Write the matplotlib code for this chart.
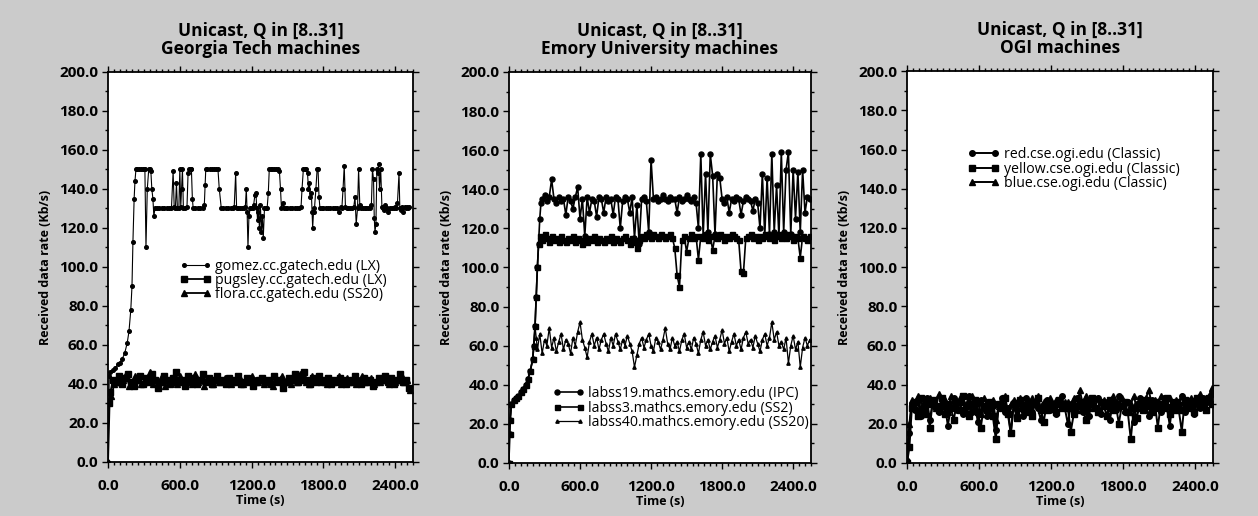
import numpy as np
import matplotlib
matplotlib.use("Agg")
import matplotlib.pyplot as plt
from matplotlib.ticker import MultipleLocator, FormatStrFormatter

plt.rcParams['font.family'] = ['Open Sans', 'DejaVu Sans']

# ---------------- data ----------------
TITLES = ["Unicast, Q in [8..31]\nGeorgia Tech machines",
          "Unicast, Q in [8..31]\nEmory University machines",
          "Unicast, Q in [8..31]\nOGI machines"]
XLABEL = "Time (s)"
YLABEL = "Received data rate (Kb/s)"
XTICKS = [0, 600, 1200, 1800, 2400]
YTICKS = [0, 20, 40, 60, 80, 100, 120, 140, 160, 180, 200]

# Panel 1 : Georgia Tech
GT_LABELS = ["gomez.cc.gatech.edu (LX)", "pugsley.cc.gatech.edu (LX)", "flora.cc.gatech.edu (SS20)"]
gomez_t = [0, 10, 20, 40, 60, 80, 100, 120, 140, 160, 175, 190, 200, 208, 218, 225, 233,
           245, 260, 275, 290, 300, 308, 317, 328, 340, 350, 358, 366, 375, 383, 392,
           410, 430, 450, 470, 490, 510, 530, 544, 553, 563, 572, 580, 592, 600, 608, 615,
           622, 630, 645, 660, 669, 680, 690, 697, 705, 712, 730, 750, 770, 790, 805, 812,
           817, 830, 850, 870, 890, 905, 919, 930, 947, 965, 985, 1005, 1025, 1044, 1055,
           1067, 1075, 1090, 1105, 1120, 1135, 1148, 1156, 1163, 1170, 1178, 1188, 1198,
           1208, 1218, 1228, 1236, 1244, 1250, 1258, 1266, 1274, 1282, 1290, 1298, 1308,
           1318, 1330, 1340, 1348, 1360, 1375, 1390, 1405, 1420, 1433, 1442, 1450, 1460,
           1470, 1485, 1500, 1520, 1540, 1560, 1580, 1600, 1614, 1622, 1633, 1645, 1658,
           1668, 1676, 1684, 1692, 1700, 1706, 1711, 1718, 1726, 1738, 1748, 1756, 1764,
           1772, 1785, 1800, 1820, 1840, 1860, 1880, 1900, 1915, 1930, 1945, 1955, 1965,
           1975, 1985, 1995, 2010, 2025, 2040, 2055, 2065, 2075, 2086, 2095, 2105, 2115,
           2130, 2145, 2160, 2175, 2190, 2202, 2211, 2220, 2226, 2232, 2240, 2248, 2256,
           2262, 2270, 2280, 2290, 2300, 2310, 2320, 2330, 2345, 2360, 2375, 2390, 2400,
           2410, 2420, 2433, 2440, 2450, 2460, 2470, 2480, 2490, 2500, 2510, 2517]
gomez_v = [0, 44, 46, 47, 48, 50, 51, 53, 56, 61, 67, 78, 90, 113, 135, 144, 150,
           150, 150, 150, 150, 150, 150, 110, 140, 150, 150, 149, 140, 135, 126, 130,
           130, 130, 130, 130, 130, 130, 130, 149, 131, 130, 143, 130, 130, 150, 131, 140,
           150, 130, 130, 131, 148, 150, 150, 150, 135, 130, 130, 130, 130, 130, 132, 142,
           150, 150, 150, 150, 150, 150, 150, 140, 130, 130, 130, 130, 130, 130, 131,
           148, 130, 130, 130, 130, 130, 131, 140, 128, 110, 126, 130, 130,
           130, 132, 137, 138, 130, 124, 128, 120, 132, 118, 126, 115, 130,
           130, 130, 138, 150, 150, 150, 150, 150, 150, 149, 140, 130, 133,
           130, 130, 130, 130, 130, 130, 130, 130, 131, 140, 150, 150, 150,
           148, 140, 143, 136, 138, 128, 120, 128, 130, 140, 150, 150, 136,
           130, 130, 130, 130, 130, 130, 130, 130, 130, 128, 131, 130, 140,
           152, 131, 130, 130, 130, 130, 131, 136, 122, 130, 150, 132, 130,
           130, 130, 130, 130, 130, 132, 150, 145, 125, 118, 122, 150, 148,
           153, 140, 150, 131, 130, 129, 132, 130, 128, 130, 130, 130, 131,
           130, 133, 148, 130, 129, 131, 128, 131, 130, 131, 130, 131]

pugsley_start_t = [10, 20]
pugsley_start_v = [30, 36]
pugsley_t0, pugsley_dt = 40, 25
pugsley_v = [42, 41, 44, 40, 43, 45, 41, 39, 42, 44, 40, 43, 41, 45, 42, 38, 41, 44, 42, 40,
             43, 46, 41, 42, 39, 44, 41, 43, 40, 42, 45, 41, 43, 40, 42, 44, 41, 42, 40, 43,
             41, 42, 44, 40, 41, 43, 42, 39, 41, 42, 43, 41, 42, 40, 44, 41, 42, 38, 41, 43,
             42, 45, 41, 43, 46, 42, 40, 43, 41, 44, 42, 41, 43, 40, 42, 41, 43, 42, 40, 41,
             42, 44, 41, 40, 43, 41, 42, 39, 41, 43, 42, 44, 41, 43, 40, 42, 45, 41, 42, 38]

flora_start_t = [0, 15, 28]
flora_start_v = [0, 36, 34]
flora_t0, flora_dt = 52, 25
flora_v = [40, 43, 41, 42, 45, 39, 41, 44, 42, 40, 41, 43, 46, 40, 42, 41, 44, 39, 42, 43,
           41, 40, 44, 42, 41, 43, 40, 45, 41, 42, 39, 43, 42, 40, 44, 41, 42, 43, 41, 40,
           42, 41, 43, 40, 42, 41, 44, 42, 41, 43, 40, 42, 41, 39, 43, 42, 44, 41, 42, 40,
           43, 41, 45, 42, 41, 40, 44, 42, 43, 41, 42, 40, 43, 41, 42, 44, 40, 41, 43, 42,
           41, 40, 42, 44, 41, 42, 43, 40, 42, 41, 44, 42, 40, 43, 41, 42, 45, 41, 42, 37]

# Panel 2 : Emory
EM_LABELS = ["labss19.mathcs.emory.edu (IPC)", "labss3.mathcs.emory.edu (SS2)",
             "labss40.mathcs.emory.edu (SS20)"]
ramp_t = [0, 5, 10, 20, 40, 60, 80, 100, 120, 140, 160, 180, 200, 210, 220]
ramp_v = [0, 15, 22, 30, 32, 33, 34, 36, 38, 40, 43, 47, 53, 60, 70]

labss19_rise_t = [230, 240, 250, 260, 270]
labss19_rise_v = [85, 100, 112, 125, 133]
labss19_t0, labss19_dt = 280, 20
labss19_v = [135, 137, 134, 136, 145, 135, 133, 136, 134, 135, 127, 136, 134, 130, 136, 141,
             125, 135, 116, 136, 128, 135, 134, 126, 136, 135, 128, 136, 134, 135, 127, 136,
             135, 120, 134, 136, 135, 128, 136, 115, 132, 112, 135, 136, 134, 118, 155, 135,
             136, 134, 135, 137, 135, 134, 136, 135, 135, 128, 136, 134, 135, 137, 135, 134,
             136, 133, 120, 158, 116, 148, 118, 158, 147, 117, 148, 146, 135, 133, 136, 128,
             135, 134, 136, 135, 127, 134, 136, 135, 134, 129, 135, 133, 120, 148, 116, 146,
             117, 158, 118, 142, 116, 159, 118, 150, 159, 117, 150, 125, 149, 118, 150, 128,
             136, 135]

labss3_rise_t = [230, 240, 250]
labss3_rise_v = [85, 100, 112]
labss3_t0, labss3_dt = 260, 20
labss3_v = [116, 114, 117, 115, 113, 116, 114, 115, 113, 116, 114, 113, 115, 114, 116, 113,
            115, 114, 112, 115, 113, 115, 114, 116, 113, 115, 114, 113, 115, 114, 116, 113,
            115, 114, 113, 115, 116, 114, 112, 115, 113, 110, 114, 116, 115, 117, 116, 115,
            117, 116, 115, 117, 116, 115, 116, 117, 115, 110, 96, 90, 114, 116, 108, 115,
            117, 115, 116, 104, 116, 115, 117, 114, 116, 109, 116, 115, 117, 116, 114, 116,
            115, 117, 116, 115, 114, 98, 97, 115, 116, 117, 115, 116, 114, 116, 115, 117,
            116, 115, 116, 114, 116, 117, 115, 116, 115, 117, 116, 114, 116, 115, 105, 116,
            115, 114, 116]

labss40_peak_t = [230]
labss40_peak_v = [64]
labss40_t0, labss40_dt = 240, 20
labss40_v = [58, 66, 56, 63, 60, 69, 59, 64, 57, 62, 66, 58, 63, 61, 56, 64, 60, 67, 72, 63,
             59, 54, 62, 66, 60, 64, 58, 63, 66, 61, 57, 64, 60, 66, 62, 58, 63, 60, 65, 61,
             57, 49, 55, 61, 64, 59, 63, 66, 60, 57, 64, 62, 58, 63, 69, 61, 58, 64, 60, 62,
             57, 63, 66, 59, 62, 58, 64, 61, 56, 63, 67, 60, 63, 58, 62, 65, 59, 63, 68, 61,
             64, 57, 62, 66, 60, 63, 58, 64, 67, 61, 63, 59, 65, 61, 57, 63, 66, 60, 64, 72,
             63, 67, 60, 62, 58, 64, 51, 60, 65, 58, 62, 49, 59, 64, 60, 63]

# Panel 3 : OGI
OGI_LABELS = ["red.cse.ogi.edu (Classic)", "yellow.cse.ogi.edu (Classic)", "blue.cse.ogi.edu (Classic)"]
ogi_t0, ogi_dt = 40, 25
red_start_t = [0, 15]
red_start_v = [1, 15]
red_v = [30, 27, 32, 24, 29, 33, 22, 31, 28, 26,
         32, 30, 19, 28, 33, 27, 31, 25, 29, 34,
         26, 30, 21, 32, 28, 24, 31, 29, 17, 30,
         33, 26, 28, 15, 31, 27, 30, 24, 33, 29,
         26, 31, 28, 22, 30, 32, 27, 29, 25, 31,
         34, 28, 20, 30, 27, 33, 29, 26, 31, 24,
         30, 28, 33, 25, 29, 31, 22, 30, 27, 34,
         29, 26, 31, 28, 21, 30, 33, 27, 29, 24,
         32, 28, 30, 26, 33, 29, 19, 31, 27, 30,
         34, 26, 29, 32, 25, 30, 28, 33, 27, 31, 35]
yellow_start_t = [0, 20]
yellow_start_v = [0, 8]
yellow_v = [28, 31, 24, 33, 26, 30, 18, 32, 29, 27,
            33, 25, 30, 28, 22, 31, 27, 34, 29, 24,
            30, 32, 26, 18, 29, 27, 31, 24, 12, 30,
            28, 33, 25, 15, 30, 23, 32, 28, 26, 31,
            24, 30, 33, 27, 21, 31, 28, 30, 26, 32,
            29, 30, 28, 16, 25, 29, 31, 27, 22, 30,
            33, 28, 26, 31, 29, 24, 32, 27, 30, 20,
            29, 31, 26, 12, 28, 23, 30, 27, 32, 29,
            26, 31, 18, 30, 28, 33, 25, 29, 31, 27,
            16, 32, 28, 30, 26, 33, 29, 31, 27, 33, 30]
blue_start_t = [0, 20]
blue_start_v = [2, 20]
blue_v = [32, 29, 34, 27, 31, 25, 33, 30, 28, 35,
          29, 32, 26, 34, 30, 28, 33, 31, 27, 32,
          34, 29, 31, 25, 33, 30, 28, 32, 22, 29,
          31, 34, 27, 30, 32, 26, 33, 29, 31, 28,
          33, 30, 34, 28, 31, 27, 33, 29, 32, 30,
          28, 31, 31, 29, 33, 27, 37, 30, 34, 28,
          31, 29, 33, 26, 32, 30, 28, 34, 31, 29,
          33, 27, 31, 30, 34, 28, 32, 29, 33, 37,
          30, 32, 28, 34, 31, 29, 33, 27, 32, 30,
          34, 31, 29, 33, 28, 32, 35, 30, 33, 34, 38]


def series(start_t, start_v, t0, dt, vals):
    t = list(start_t) + list(t0 + dt * np.arange(len(vals)))
    v = list(start_v) + list(vals)
    return np.array(t), np.array(v)


def style(ms, lw):
    return dict(color='black', lw=lw, ms=ms, mfc='black', mec='black')


# ---------------- figure ----------------
BG = '#cbcbcb'
fig = plt.figure(figsize=(12.58, 5.16), dpi=100, facecolor=BG)

ax_pos = [(0.0859, 0.1047, 0.2424, 0.7558),
          (0.4046, 0.1030, 0.2400, 0.7575),
          (0.7210, 0.1030, 0.2432, 0.7590)]
axes = [fig.add_axes(p) for p in ax_pos]

# panel 1
ax = axes[0]
ax.plot(gomez_t, gomez_v, marker='o', label=GT_LABELS[0], **style(2.6, 0.8))
t, v = series(pugsley_start_t, pugsley_start_v, pugsley_t0, pugsley_dt, pugsley_v)
ax.plot(t, v, marker='s', label=GT_LABELS[1], **style(3.8, 1.3))
t, v = series(flora_start_t, flora_start_v, flora_t0, flora_dt, flora_v)
ax.plot(t, v, marker='^', label=GT_LABELS[2], **style(3.8, 1.3))
leg_pos = [(0.235, 0.465)]

# panel 2
ax = axes[1]
t, v = series(ramp_t + labss19_rise_t, ramp_v + labss19_rise_v, labss19_t0, labss19_dt, labss19_v)
ax.plot(t, v, marker='o', label=EM_LABELS[0], **style(3.6, 1.2))
t, v = series(ramp_t + labss3_rise_t, ramp_v + labss3_rise_v, labss3_t0, labss3_dt, labss3_v)
ax.plot(t, v, marker='s', label=EM_LABELS[1], **style(3.6, 1.2))
t, v = series(ramp_t + labss40_peak_t, ramp_v + labss40_peak_v, labss40_t0, labss40_dt, labss40_v)
ax.plot(t, v, marker='^', label=EM_LABELS[2], **style(2.4, 0.9))
leg_pos.append((0.145, 0.14))

# panel 3
ax = axes[2]
t, v = series(red_start_t, red_start_v, ogi_t0, ogi_dt, red_v)
ax.plot(t, v, marker='o', label=OGI_LABELS[0], **style(4.0, 1.4))
t, v = series(yellow_start_t, yellow_start_v, ogi_t0, ogi_dt, yellow_v)
ax.plot(t, v, marker='s', label=OGI_LABELS[1], **style(4.0, 1.4))
t, v = series(blue_start_t, blue_start_v, ogi_t0, ogi_dt, blue_v)
ax.plot(t, v, marker='^', label=OGI_LABELS[2], **style(4.0, 1.4))
leg_pos.append((0.2, 0.75))

for ax, title, lp in zip(axes, TITLES, leg_pos):
    ax.set_facecolor('white')
    ax.set_xlim(0, 2550)
    ax.set_ylim(0, 200)
    ax.set_xticks(XTICKS)
    ax.set_yticks(YTICKS)
    ax.xaxis.set_minor_locator(MultipleLocator(50))
    ax.yaxis.set_minor_locator(MultipleLocator(10))
    ax.xaxis.set_major_formatter(FormatStrFormatter('%.1f'))
    ax.yaxis.set_major_formatter(FormatStrFormatter('%.1f'))
    ax.tick_params(which='both', direction='out', top=True, right=True,
                   labeltop=False, labelright=False, width=1.0, color='black')
    ax.tick_params(which='major', length=4)
    ax.tick_params(which='minor', length=2.5)
    ax.tick_params(axis='x', which='major', pad=8, labelsize=11)
    ax.tick_params(axis='y', which='major', pad=3, labelsize=11)
    for lbl in ax.get_xticklabels() + ax.get_yticklabels():
        lbl.set_fontweight('bold')
    for sp in ax.spines.values():
        sp.set_linewidth(1.3)
    ax.set_title(title, fontsize=12.5, fontweight='bold', pad=13, linespacing=1.0)
    ax.set_xlabel(XLABEL, fontsize=9, fontweight='bold', labelpad=1)
    ax.set_ylabel(YLABEL, fontsize=9, fontweight='bold', labelpad=5)
    ax.legend(loc='center left', bbox_to_anchor=lp, frameon=False, fontsize=10.2,
              numpoints=2, handlelength=2.2, handletextpad=0.3, labelspacing=-0.05,
              borderpad=0, borderaxespad=0)

fig.savefig('out.png', dpi=100, facecolor=BG)
